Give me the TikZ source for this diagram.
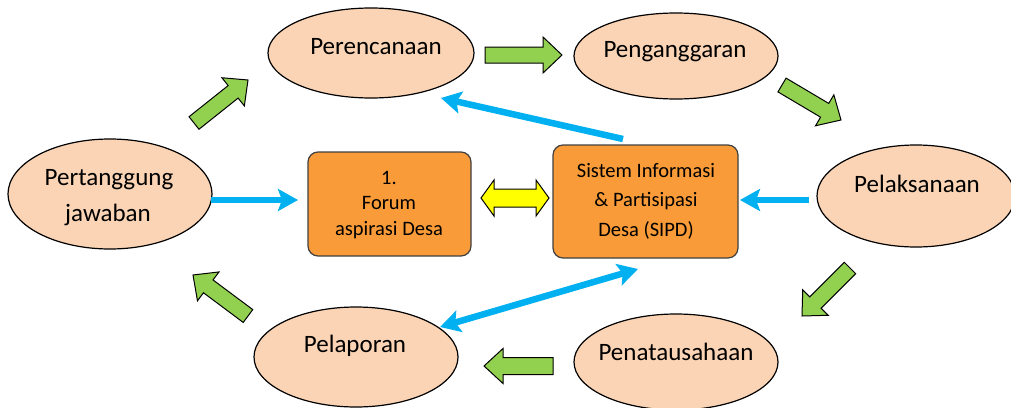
\documentclass[tikz,border=0pt]{standalone}
\usepackage{fontspec}
\setmainfont{Carlito}
\usetikzlibrary{calc,arrows.meta}
\definecolor{peach}{HTML}{FAD4B4}
\definecolor{gfill}{HTML}{92D050}
\definecolor{ofill}{HTML}{F99B38}
\definecolor{bline}{HTML}{00B0F0}
\definecolor{yfill}{HTML}{FFFF00}
\newcommand\blockarr[6]{%
  \coordinate (hb) at ($(#2)!#5!(#1)$);
  \draw[#6] ($(#1)!#3!90:(#2)$) -- ($(hb)!#3!90:(#2)$) -- ($(hb)!#4!90:(#2)$) -- (#2)
    -- ($(hb)!#4!-90:(#2)$) -- ($(hb)!#3!-90:(#2)$) -- ($(#1)!#3!-90:(#2)$) -- cycle;}
\tikzset{
  ell/.style={draw=black, fill=peach, line width=1.2pt},
  ebox/.style={draw=black!75, fill=ofill, line width=1.2pt, rounded corners=10pt},
  etext/.style={anchor=base, inner sep=0pt, font=\fontsize{25}{30}\selectfont},
  btext/.style={anchor=base, inner sep=0pt, font=\fontsize{20.5}{25}\selectfont},
  garr/.style={draw=black, fill=gfill, line width=1pt, line join=miter},
  barr/.style={draw=bline, line width=6.5pt, -{Stealth[length=20pt,width=22pt,inset=4pt]}},
  bdarr/.style={draw=bline, line width=6.5pt, {Stealth[length=20pt,width=22pt,inset=4pt]}-{Stealth[length=20pt,width=22pt,inset=4pt]}},
}
\begin{document}
\begin{tikzpicture}[x=1pt,y=-1pt]
\useasboundingbox (0,0) rectangle (1011,407);
% ellipses
\draw[ell] (371,53) ellipse (103 and 45);
\draw[ell] (676,56) ellipse (102 and 43);
\draw[ell] (916,196) ellipse (99 and 51);
\draw[ell] (676,362) ellipse (102 and 48);
\draw[ell] (356,357) ellipse (102 and 50);
\draw[ell] (110,194) ellipse (102 and 55);
\node[etext] (tper) at (376,54) {Perencanaan};
\node[etext] (tpeng) at (675,57) {Penganggaran};
\node[etext] (tpel) at (917,192) {Pelaksanaan};
\node[etext] (tpen) at (676,360) {Penatausahaan};
\node[etext] (tlap) at (355,352) {Pelaporan};
\node[etext] (tpj1) at (109,185) {Pertanggung};
\node[etext] (tpj2) at (108,221) {jawaban};
% boxes
\draw[ebox] (308,152) rectangle (471,256);
\draw[ebox] (553,145) rectangle (738,258);
\node[btext] (f1) at (389,184) {1.};
\node[btext] (f2) at (389,209.5) {Forum};
\node[btext] (f3) at (389,235) {aspirasi Desa};
\node[btext] (s1) at (646,177) {Sistem Informasi};
\node[btext] (s2) at (646,206.5) {\& Partisipasi};
\node[btext] (s3) at (646,236) {Desa (SIPD)};
% green block arrows
\coordinate (g1a) at (485,55);  \coordinate (g1b) at (562,55);
\coordinate (g2a) at (782,85);  \coordinate (g2b) at (841,120);
\coordinate (g3a) at (850,268); \coordinate (g3b) at (802,316);
\coordinate (g4a) at (553,366); \coordinate (g4b) at (484,366);
\coordinate (g5a) at (248,316); \coordinate (g5b) at (193,275);
\coordinate (g6a) at (194,123); \coordinate (g6b) at (248,80);
\blockarr{g1a}{g1b}{8pt}{18pt}{19pt}{garr}
\blockarr{g2a}{g2b}{8pt}{18pt}{19pt}{garr}
\blockarr{g3a}{g3b}{8pt}{18pt}{19pt}{garr}
\blockarr{g4a}{g4b}{8.5pt}{17.5pt}{19pt}{garr}
\blockarr{g5a}{g5b}{8pt}{18pt}{19pt}{garr}
\blockarr{g6a}{g6b}{8pt}{18pt}{19pt}{garr}
% yellow double arrow
\draw[draw=black, fill=yfill, line width=1pt] (481,198) -- (494,180) -- (494,189) -- (536,189)
  -- (536,180) -- (549,198) -- (536,216) -- (536,207) -- (494,207) -- (494,216) -- cycle;
% blue arrows
\coordinate (b1a) at (623,139); \coordinate (b1b) at (441,98);
\coordinate (b2a) at (211,200); \coordinate (b2b) at (298,200);
\coordinate (b3a) at (809,200); \coordinate (b3b) at (740,200);
\coordinate (b4a) at (440,327); \coordinate (b4b) at (638,269);
\draw[barr] (b1a) -- (b1b);
\draw[barr] (b2a) -- (b2b);
\draw[barr] (b3a) -- (b3b);
\draw[bdarr] (b4a) -- (b4b);
\end{tikzpicture}
\end{document}
